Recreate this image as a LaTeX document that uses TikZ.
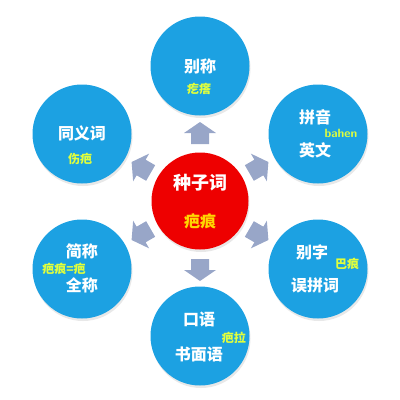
\documentclass[tikz,border=0pt]{standalone}
\usepackage{fontspec}
\newfontfamily\cjk{Noto Sans CJK SC}
\usetikzlibrary{shadows}
\definecolor{bubbleblue}{RGB}{28,161,226}
\definecolor{seedred}{RGB}{238,0,0}
\definecolor{limetext}{RGB}{225,255,60}
\definecolor{goldtext}{RGB}{255,214,0}
\definecolor{arrowgray}{RGB}{152,166,200}

\newcommand\housearrow[2]{%
    \fill[arrowgray, shift={#1}, rotate=#2] (-10,-9) -- (1,-9) -- (1,-16) -- (12,0) -- (1,16) -- (1,9) -- (-10,9) -- cycle;}

\begin{document}
\begin{tikzpicture}[x=1pt, y=-1pt,
    bubble/.style={circle, fill=bubbleblue, minimum size=99pt, inner sep=0pt,
        drop shadow={opacity=0.18, shadow xshift=1pt, shadow yshift=-2.5pt}},
    seedball/.style={bubble, fill=seedred, minimum size=97pt},
    title/.style={text=white, font=\cjk\bfseries\fontsize{16}{16}\selectfont},
    note/.style={text=limetext, font=\cjk\bfseries\fontsize{12}{12}\selectfont, inner sep=0pt}]
    \useasboundingbox (0,0) rectangle (400,400);

    % circles
    \node[seedball] (seed)  at (200,201) {};
    \node[bubble]   (alias) at (200, 66) {};
    \node[bubble]   (syn)   at ( 82,134) {};
    \node[bubble]   (pin)   at (318,134) {};
    \node[bubble]   (abbr)  at ( 82,269) {};
    \node[bubble]   (typo)  at (318,269) {};
    \node[bubble]   (oral)  at (200,336) {};

    % arrows out of the seed
    \housearrow{(200,134)}{90}
    \housearrow{(142,168)}{150}
    \housearrow{(258,168)}{30}
    \housearrow{(142,234)}{210}
    \housearrow{(258,234)}{330}
    \housearrow{(200,269)}{270}

    % texts
    \node[title, font=\cjk\bfseries\fontsize{18}{18}\selectfont] (seedT) at (200,183) {种子词};
    \node[note, text=goldtext, font=\cjk\bfseries\fontsize{16}{16}\selectfont] (seedN) at (200,221) {疤痕};

    \node[title] (aliasT) at (200, 66) {别称};
    \node[note]  (aliasN) at (199, 89) {疙瘩};

    \node[title] (synT) at ( 82,133) {同义词};
    \node[note]  (synN) at ( 80,159) {伤疤};

    \node[title] (pinT)  at (315,117) {拼音};
    \node[note, font=\bfseries\sffamily\fontsize{12}{12}\selectfont] (pinN) at (341,133) {bahen};
    \node[title] (pinT2) at (315,150) {英文};

    \node[title] (typoT)  at (312,252) {别字};
    \node[note]  (typoN)  at (347,264) {巴痕};
    \node[title] (typoT2) at (315,285) {误拼词};

    \node[title] (oralT)  at (199,319) {口语};
    \node[note]  (oralN)  at (234,338) {疤拉};
    \node[title] (oralT2) at (199,354) {书面语};

    \node[title] (abbrT)  at ( 82,251) {简称};
    \node[note]  (abbrN)  at ( 64,269) {疤痕=疤};
    \node[title] (abbrT2) at ( 82,285) {全称};
\end{tikzpicture}
\end{document}
